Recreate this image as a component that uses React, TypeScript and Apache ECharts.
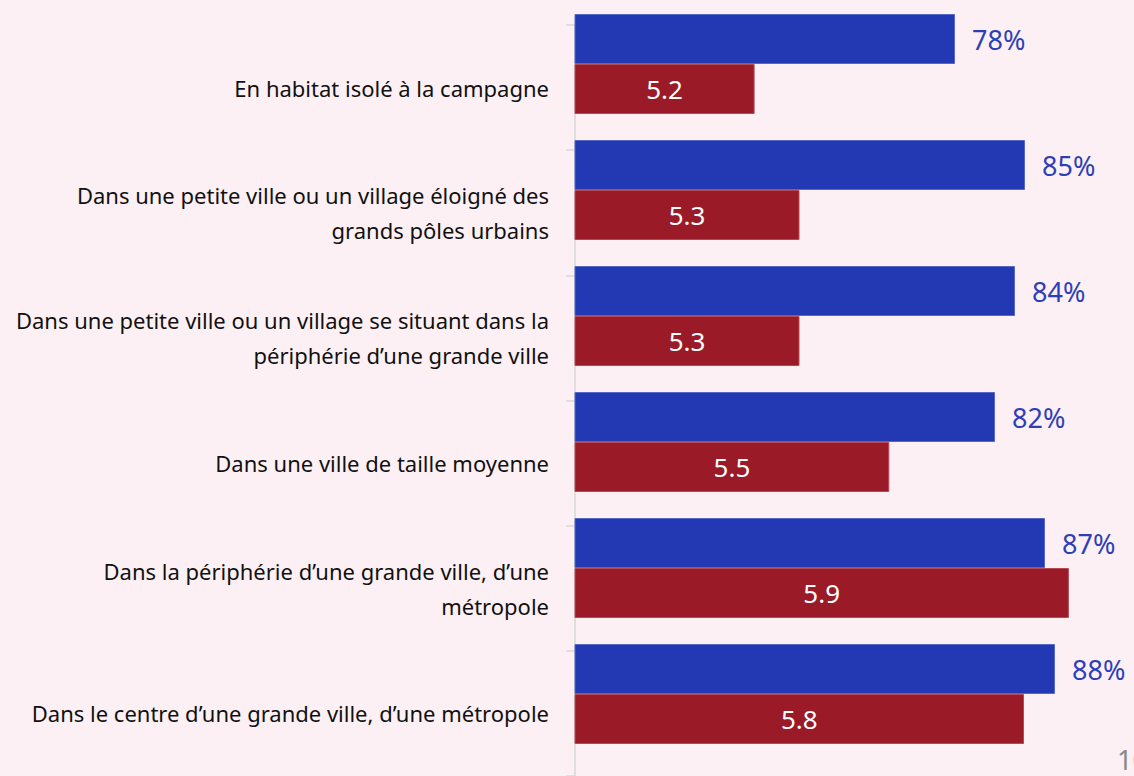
import React, { useEffect, useRef } from "react";
import * as echarts from "echarts";

const categories = [
  "En habitat isolé à la campagne",
  "Dans une petite ville ou un village éloigné des\ngrands pôles urbains",
  "Dans une petite ville ou un village se situant dans la\npériphérie d’une grande ville",
  "Dans une ville de taille moyenne",
  "Dans la périphérie d’une grande ville, d’une\nmétropole",
  "Dans le centre d’une grande ville, d’une métropole",
];
const shareValues = [78, 85, 84, 82, 87, 88];
const scoreValues = [5.2, 5.3, 5.3, 5.5, 5.9, 5.8];

const BLUE = "#2239b3";
const RED = "#9b1a27";
const BG = "#fcf0f4";
const FONT = "'Noto Sans', sans-serif";
const PLOT_W = 559;

export default function App() {
  const ref = useRef<HTMLDivElement>(null);
  useEffect(() => {
    if (!ref.current) return;
    const chart = echarts.init(ref.current, undefined, { renderer: "svg" });
    chart.setOption({
      animation: false,
      backgroundColor: BG,
      textStyle: { fontFamily: FONT },
      grid: [
        { left: 575, top: 25, width: PLOT_W, height: 756, containLabel: false },
        { left: 575, top: 1, width: PLOT_W, height: 756, containLabel: false },
      ],
      yAxis: [
        {
          type: "category",
          gridIndex: 0,
          data: categories,
          inverse: true,
          axisLine: { show: true, lineStyle: { color: "#d9d9d9", width: 1.5 } },
          axisTick: { show: true, length: 9, lineStyle: { color: "#d9d9d9", width: 1.5 } },
          axisLabel: {
            color: "#111",
            fontSize: 22,
            lineHeight: 35,
            margin: 26,
            align: "right",
            fontFamily: FONT,
          },
        },
        {
          type: "category",
          gridIndex: 1,
          data: categories,
          inverse: true,
          show: false,
        },
      ],
      xAxis: [
        { type: "value", gridIndex: 0, min: 0, max: 1, show: false },
        { type: "value", gridIndex: 1, min: 40, max: 40 + PLOT_W / 10, show: false },
        { type: "value", gridIndex: 1, min: 4.8, max: 4.8 + PLOT_W / 449, show: false },
      ],
      series: [
        {
          type: "bar",
          xAxisIndex: 1,
          yAxisIndex: 1,
          data: shareValues,
          barWidth: 50,
          barGap: "0%",
          itemStyle: { color: BLUE, borderColor: "#5568c8", borderWidth: 1 },
          label: {
            show: true,
            position: "right",
            distance: 17,
            color: "#2d3fb8",
            fontSize: 27,
            fontFamily: FONT,
            formatter: (p: any) => p.value + "%",
          },
        },
        {
          type: "bar",
          xAxisIndex: 2,
          yAxisIndex: 1,
          data: scoreValues,
          barWidth: 50,
          barGap: "0%",
          itemStyle: { color: RED, borderColor: "#b34a55", borderWidth: 1 },
          label: {
            show: true,
            position: "inside",
            color: "#ffffff",
            fontSize: 26,
            fontFamily: FONT,
            formatter: (p: any) => p.value.toFixed(1),
          },
        },
      ],
      graphic: [
        {
          type: "text",
          left: 1117,
          top: 746,
          style: { text: "10", fill: "#888", fontSize: 27, fontFamily: FONT },
        },
      ],
    });
    return () => chart.dispose();
  }, []);
  return (
    <div
      ref={ref}
      style={{ position: "fixed", left: 0, top: 0, width: 1134, height: 776, background: BG }}
    />
  );
}
